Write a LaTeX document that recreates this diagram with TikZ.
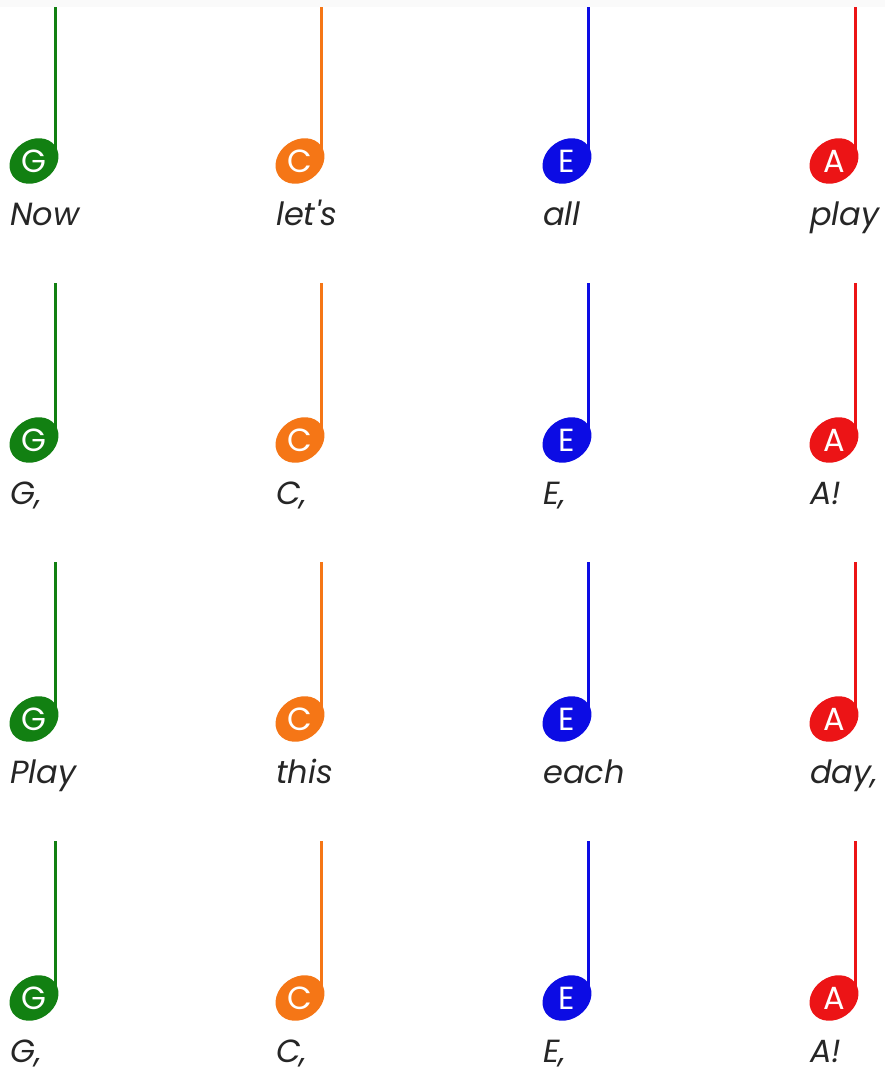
\documentclass[tikz,border=0pt]{standalone}
\usepackage{fontspec}
\setmainfont{Poppins}
\usetikzlibrary{positioning}
\definecolor{noteG}{RGB}{18,128,18}
\definecolor{noteC}{RGB}{245,118,22}
\definecolor{noteE}{RGB}{12,12,228}
\definecolor{noteA}{RGB}{236,20,22}
\definecolor{lyric}{RGB}{38,38,38}
\tikzset{
  letter/.style={text=white, inner sep=0pt, font=\fontsize{32}{32}\selectfont},
  stem/.style={line width=3pt},
  word/.style={text=lyric, inner sep=0pt, font=\fontsize{32}{36}\selectfont\itshape}
}
\newcommand{\musnote}[6]{%
  \fill[#4, rotate around={35:(#2,#3)}] (#2,#3) ellipse (26 and 21);
  \node[letter] (#1) at (#2,#3) {#5};
  \draw[stem, #4] (#1.center) ++(21.5,-4) -- ++(0,-153);
  \node[word, anchor=base west] (#1w) at (#2-24,#3+64) {#6};
}

\begin{document}
\begin{tikzpicture}[x=1pt, y=-1pt]
      \useasboundingbox (0,0) rectangle (885,1068);
      \fill[white] (0,0) rectangle (885,1068);

      \musnote{G1}{34}{161}{noteG}{G}{Now}
      \musnote{C1}{300}{161}{noteC}{C}{let\textquotesingle s}
      \musnote{E1}{567}{161}{noteE}{E}{all}
      \musnote{A1}{834}{161}{noteA}{A}{play}

      \musnote{G2}{34}{440}{noteG}{G}{G,}
      \musnote{C2}{300}{440}{noteC}{C}{C,}
      \musnote{E2}{567}{440}{noteE}{E}{E,}
      \musnote{A2}{834}{440}{noteA}{A}{A!}

      \musnote{G3}{34}{719}{noteG}{G}{Play}
      \musnote{C3}{300}{719}{noteC}{C}{this}
      \musnote{E3}{567}{719}{noteE}{E}{each}
      \musnote{A3}{834}{719}{noteA}{A}{day,}

      \musnote{G4}{34}{998}{noteG}{G}{G,}
      \musnote{C4}{300}{998}{noteC}{C}{C,}
      \musnote{E4}{567}{998}{noteE}{E}{E,}
      \musnote{A4}{834}{998}{noteA}{A}{A!}

      \fill[black!2] (0,0) rectangle (885,7);
    \end{tikzpicture}
\end{document}
